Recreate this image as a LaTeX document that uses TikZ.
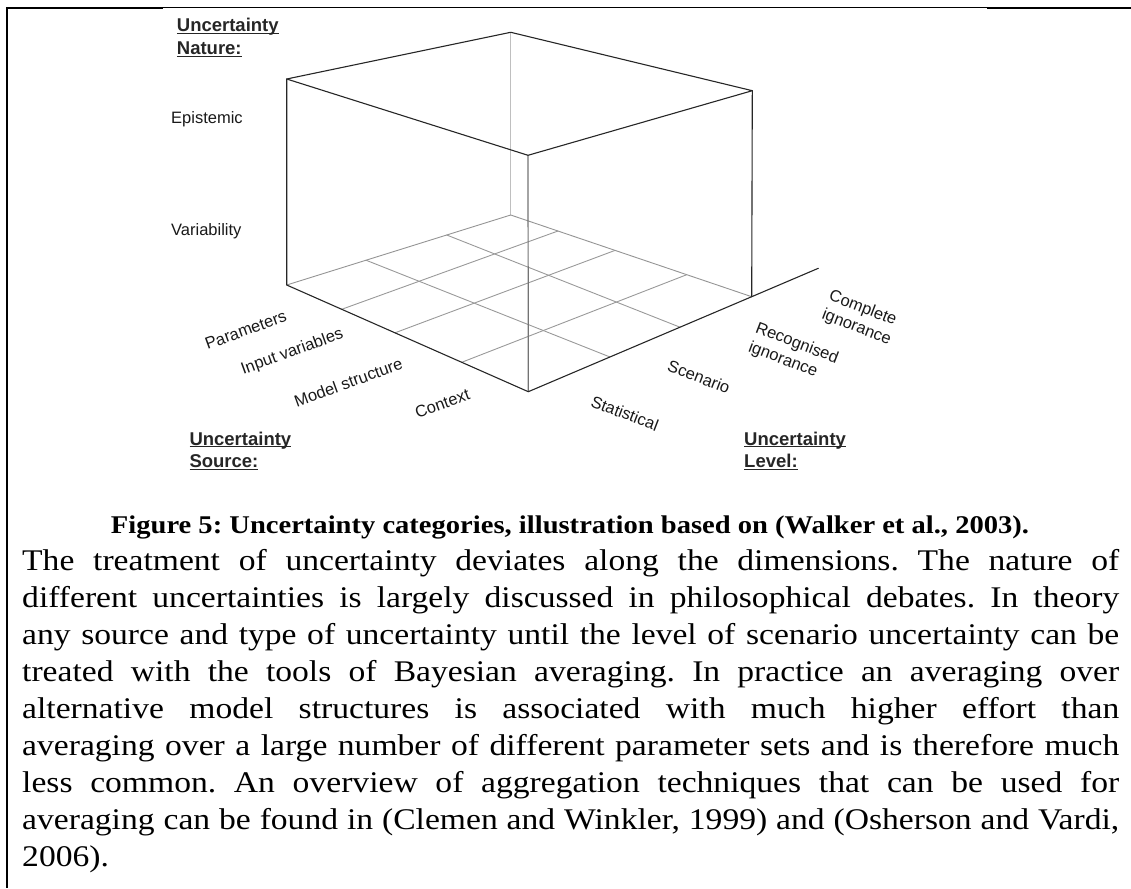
\documentclass[tikz,border=0pt]{standalone}
\usepackage{fontspec}
\setmainfont[FakeStretch=1.12]{Liberation Serif}
\newfontfamily\labelfont{Liberation Sans}
% underline that sits just under the baseline, crossing descenders
\newcommand\ulbox[1]{\setbox0\hbox{#1}\rlap{\rule[-2.3pt]{\wd0}{1.1pt}}\box0}
% one fully justified line of the paragraph
\newcommand\bodyline[1]{\makebox[1097pt][s]{#1}}
\frenchspacing

\tikzset{
  edgedark/.style={draw=black!85, line width=1.1pt},
  edgegray/.style={draw=black!42, line width=0.9pt},
  gridline/.style={draw=black!40, line width=0.9pt},
  backedge/.style={draw=black!25, line width=1pt},
  frontedge/.style={draw=black!55, line width=1.2pt},
  axislbl/.style={font=\labelfont\fontsize{16.5}{20}\selectfont, text=black!90, inner sep=0pt, align=left},
  header/.style={font=\labelfont\bfseries\fontsize{18.5}{22.5}\selectfont, text=black!85, inner sep=0pt, anchor=base west},
  catlbl/.style={font=\labelfont\fontsize{16.5}{20}\selectfont, text=black!90, inner sep=0pt, anchor=base west},
  bodytext/.style={font=\fontsize{30}{37.1}\selectfont, inner sep=0pt, anchor=base west},
  capt/.style={font=\bfseries\fontsize{25.5}{30}\selectfont, inner sep=0pt, anchor=base},
  pagerule/.style={fill=black, draw=none}
}

\begin{document}
\begin{tikzpicture}[x=1pt, y=-1pt, line join=round, line cap=round]
\useasboundingbox (0,0) rectangle (1131,888);

% page border (left and top rules)
\fill[pagerule] (5.6,6.6) rectangle (8,888);
\fill[pagerule] (5.6,6.6) rectangle (163,8.7);
\fill[pagerule] (163,6.8) rectangle (987,7.9);
\fill[pagerule] (987,6.6) rectangle (1131,8.7);

% cube corners
\coordinate (TL) at (286.7,79);
\coordinate (TB) at (510.7,32.3);
\coordinate (TR) at (752.3,90.7);
\coordinate (TF) at (528,155.3);
\coordinate (L)  at (286.7,285);
\coordinate (B)  at (510.7,215);
\coordinate (R)  at (751.7,296.7);
\coordinate (F)  at (528.3,391.7);
\coordinate (E)  at (818.3,268.3);

% floor grid end points
\coordinate (P1) at (341.7,309.3);
\coordinate (P2) at (395,332.8);
\coordinate (P3) at (461.7,362.3);
\coordinate (Q1) at (558,231);
\coordinate (Q2) at (615,250.4);
\coordinate (Q3) at (686.7,274.7);
\coordinate (S1) at (366,260.2);
\coordinate (S2) at (446.7,235);
\coordinate (T1) at (610,357);
\coordinate (T2) at (680,327.2);

% hidden back edges and floor grid
\draw[backedge] (TB) -- (B);
\draw[edgegray] (L) -- (B) -- (R);
\draw[gridline] (P1) -- (Q1);
\draw[gridline] (P2) -- (Q2);
\draw[gridline] (P3) -- (Q3);
\draw[gridline] (S1) -- (T1);
\draw[gridline] (S2) -- (T2);

% visible edges
\draw[frontedge] (TF) -- (F);
\draw[edgedark] (TL) -- (TB) -- (TR) -- (TF) -- cycle;
\draw[edgedark] (TL) -- (L) -- (F) -- (R) -- (E);
\draw[edgedark] (TR) -- (R);

% dimension headers
\node[header] (natU) at (176.7,31.7) {\ulbox{Uncertainty}};
\node[header] (natN) at (176.7,55) {\ulbox{Nature:}};
\node[header] (srcU) at (189.3,445) {\ulbox{Uncertainty}};
\node[header] (srcN) at (189.3,467.7) {\ulbox{Source:}};
\node[header] (lvlU) at (744,445) {\ulbox{Uncertainty}};
\node[header] (lvlN) at (744,467.7) {\ulbox{Level:}};

% nature categories
\node[catlbl] (epi) at (171,123.3) {Epistemic};
\node[catlbl] (var) at (171,235.7) {Variability};

% source categories
\node[axislbl, rotate=20] (par) at (245.7,330) {Parameters};
\node[axislbl, rotate=20] (inp) at (292.3,352.3) {Input variables};
\node[axislbl, rotate=20] (mod) at (348.3,382.3) {Model structure};
\node[axislbl, rotate=20] (ctx) at (442.3,403.3) {Context};

% level categories
\node[axislbl, rotate=-21] (sta) at (625,413.3) {Statistical};
\node[axislbl, rotate=-21] (sce) at (699,376.7) {Scenario};
\node[axislbl, rotate=-21] (rec) at (793.3,353.3) {Recognised\\ignorance};
\node[axislbl, rotate=-21] (com) at (860,318.3) {Complete\\ignorance};

% caption
\node[capt] (cap) at (570,533) {Figure 5: Uncertainty categories, illustration based on (Walker et al., 2003).};

% paragraph
\node[bodytext] (l0) at (22,570.0) {\bodyline{The treatment of uncertainty deviates along the dimensions. The nature of}};
\node[bodytext] (l1) at (22,607.1) {\bodyline{different uncertainties is largely discussed in philosophical debates. In theory}};
\node[bodytext] (l2) at (22,644.2) {\bodyline{any source and type of uncertainty until the level of scenario uncertainty can be}};
\node[bodytext] (l3) at (22,681.3) {\bodyline{treated with the tools of Bayesian averaging. In practice an averaging over}};
\node[bodytext] (l4) at (22,718.4) {\bodyline{alternative model structures is associated with much higher effort than}};
\node[bodytext] (l5) at (22,755.5) {\bodyline{averaging over a large number of different parameter sets and is therefore much}};
\node[bodytext] (l6) at (22,792.6) {\bodyline{less common. An overview of aggregation techniques that can be used for}};
\node[bodytext] (l7) at (22,829.7) {\bodyline{averaging can be found in (Clemen and Winkler, 1999) and (Osherson and Vardi,}};
\node[bodytext] (l8) at (22,866.8) {2006).};
\end{tikzpicture}
\end{document}
